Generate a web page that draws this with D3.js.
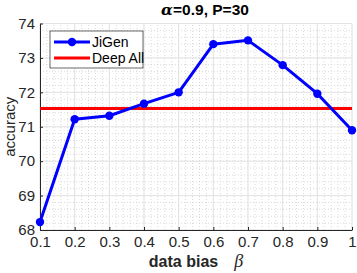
<!DOCTYPE html>
<html>
<head>
<meta charset="utf-8">
<script src="https://cdn.jsdelivr.net/npm/d3@7"></script>
<style>
  body { margin: 0; background: #fff; }
  text { font-family: "Liberation Sans", Arial, sans-serif; }
</style>
</head>
<body>
<svg id="chart" width="357" height="273"></svg>
<script>
// values
var betas = [0.1, 0.2, 0.3, 0.4, 0.5, 0.6, 0.7, 0.8, 0.9, 1.0];
var jigen = [68.23, 71.22, 71.32, 71.67, 72.0, 73.4, 73.51, 72.79, 71.96, 70.9];
var deepAll = 71.53;
var xTicks = [0.1, 0.2, 0.3, 0.4, 0.5, 0.6, 0.7, 0.8, 0.9, 1];
var yTicks = [68, 69, 70, 71, 72, 73, 74];

var svg = d3.select("#chart"),
    margin = {left: 40, right: 5, top: 23.5, bottom: 43},
    width = +svg.attr("width"),
    height = +svg.attr("height");

var x = d3.scaleLinear().domain([0.1, 1]).range([margin.left, width - margin.right]);
var y = d3.scaleLinear().domain([68, 74]).range([height - margin.bottom, margin.top]);

// minor grid (dotted)
var xMinor = d3.range(0.1, 1.0001, 0.02);
var yMinor = d3.range(68, 74.0001, 0.2);
var grid = svg.append("g");
grid.selectAll(".xminor").data(xMinor).enter().append("line")
    .attr("x1", d => x(d)).attr("x2", d => x(d))
    .attr("y1", y(68)).attr("y2", y(74))
    .attr("stroke", "#c8c8c8").attr("stroke-width", 0.7).attr("stroke-dasharray", "1,2");
grid.selectAll(".yminor").data(yMinor).enter().append("line")
    .attr("x1", x(0.1)).attr("x2", x(1))
    .attr("y1", d => y(d)).attr("y2", d => y(d))
    .attr("stroke", "#c8c8c8").attr("stroke-width", 0.7).attr("stroke-dasharray", "1,2");
// major grid
grid.selectAll(".xmajor").data(xTicks).enter().append("line")
    .attr("x1", d => x(d)).attr("x2", d => x(d))
    .attr("y1", y(68)).attr("y2", y(74))
    .attr("stroke", "#e3e3e3").attr("stroke-width", 1);
grid.selectAll(".ymajor").data(yTicks).enter().append("line")
    .attr("x1", x(0.1)).attr("x2", x(1))
    .attr("y1", d => y(d)).attr("y2", d => y(d))
    .attr("stroke", "#e3e3e3").attr("stroke-width", 1);

// axes
var xAxis = svg.append("g")
    .attr("transform", "translate(0," + y(68) + ")")
    .call(d3.axisBottom(x).tickValues(xTicks).tickSizeInner(-3).tickSizeOuter(0).tickPadding(6)
        .tickFormat(d => d === 1 ? "1" : d3.format(".1f")(d)));
var yAxis = svg.append("g")
    .attr("transform", "translate(" + x(0.1) + ",0)")
    .call(d3.axisLeft(y).tickValues(yTicks).tickSizeInner(-3).tickSizeOuter(0).tickPadding(5)
        .tickFormat(d3.format("d")));
[xAxis, yAxis].forEach(function (a) {
    a.select(".domain").attr("stroke", "#262626").attr("stroke-width", 1);
    a.selectAll(".tick line").attr("stroke", "#262626");
    a.selectAll(".tick text").attr("fill", "#262626").style("font-size", "15px")
        .style("font-family", "'Liberation Sans', Arial, sans-serif");
});

// Deep All baseline
svg.append("line")
    .attr("x1", x(0.1)).attr("x2", x(1))
    .attr("y1", y(deepAll)).attr("y2", y(deepAll))
    .attr("stroke", "#ff0000").attr("stroke-width", 3);

// JiGen line
var pts = betas.map((b, i) => [b, jigen[i]]);
svg.append("path")
    .datum(pts)
    .attr("fill", "none")
    .attr("stroke", "#0000ff")
    .attr("stroke-width", 3)
    .attr("stroke-linejoin", "round")
    .attr("d", d3.line().x(d => x(d[0])).y(d => y(d[1])));
svg.selectAll(".pt").data(pts).enter().append("circle")
    .attr("cx", d => x(d[0])).attr("cy", d => y(d[1]))
    .attr("r", 4.2)
    .attr("fill", "#0000ff");

// legend
var lg = svg.append("g").attr("transform", "translate(50,31)");
lg.append("rect").attr("width", 93).attr("height", 37)
    .attr("fill", "#fff").attr("stroke", "#262626").attr("stroke-width", 0.7);
lg.append("line").attr("x1", 4).attr("x2", 40).attr("y1", 11).attr("y2", 11)
    .attr("stroke", "#0000ff").attr("stroke-width", 3);
lg.append("circle").attr("cx", 22).attr("cy", 11).attr("r", 4.2).attr("fill", "#0000ff");
lg.append("text").attr("x", 42).attr("y", 16).text("JiGen")
    .style("font-size", "14px").attr("fill", "#000");
lg.append("line").attr("x1", 4).attr("x2", 40).attr("y1", 27).attr("y2", 27)
    .attr("stroke", "#ff0000").attr("stroke-width", 3);
lg.append("text").attr("x", 42).attr("y", 32).text("Deep All")
    .style("font-size", "14px").attr("fill", "#000");

// title
var title = svg.append("text")
    .attr("x", 205).attr("y", 15)
    .attr("text-anchor", "middle")
    .style("font-size", "15.5px").style("font-weight", "bold")
    .attr("fill", "#000");
title.append("tspan").text("α").style("font-family", "'DejaVu Serif', 'Liberation Serif', serif").style("font-style", "italic");
title.append("tspan").text("=0.9, P=30");

// axis labels
svg.append("text")
    .attr("transform", "translate(15," + ((y(68) + y(74)) / 2) + ") rotate(-90)")
    .attr("text-anchor", "middle")
    .style("font-size", "15px")
    .attr("fill", "#262626")
    .text("accuracy");

var xl = svg.append("text")
    .attr("x", 196).attr("y", 267)
    .attr("text-anchor", "middle")
    .style("font-size", "16px")
    .attr("fill", "#262626");
xl.append("tspan").text("data bias").style("font-weight", "bold");
xl.append("tspan").attr("dx", 16).text("β")
    .style("font-family", "'Liberation Serif', 'DejaVu Serif', serif").style("font-style", "italic").style("font-size", "18px");
</script>
</body>
</html>
